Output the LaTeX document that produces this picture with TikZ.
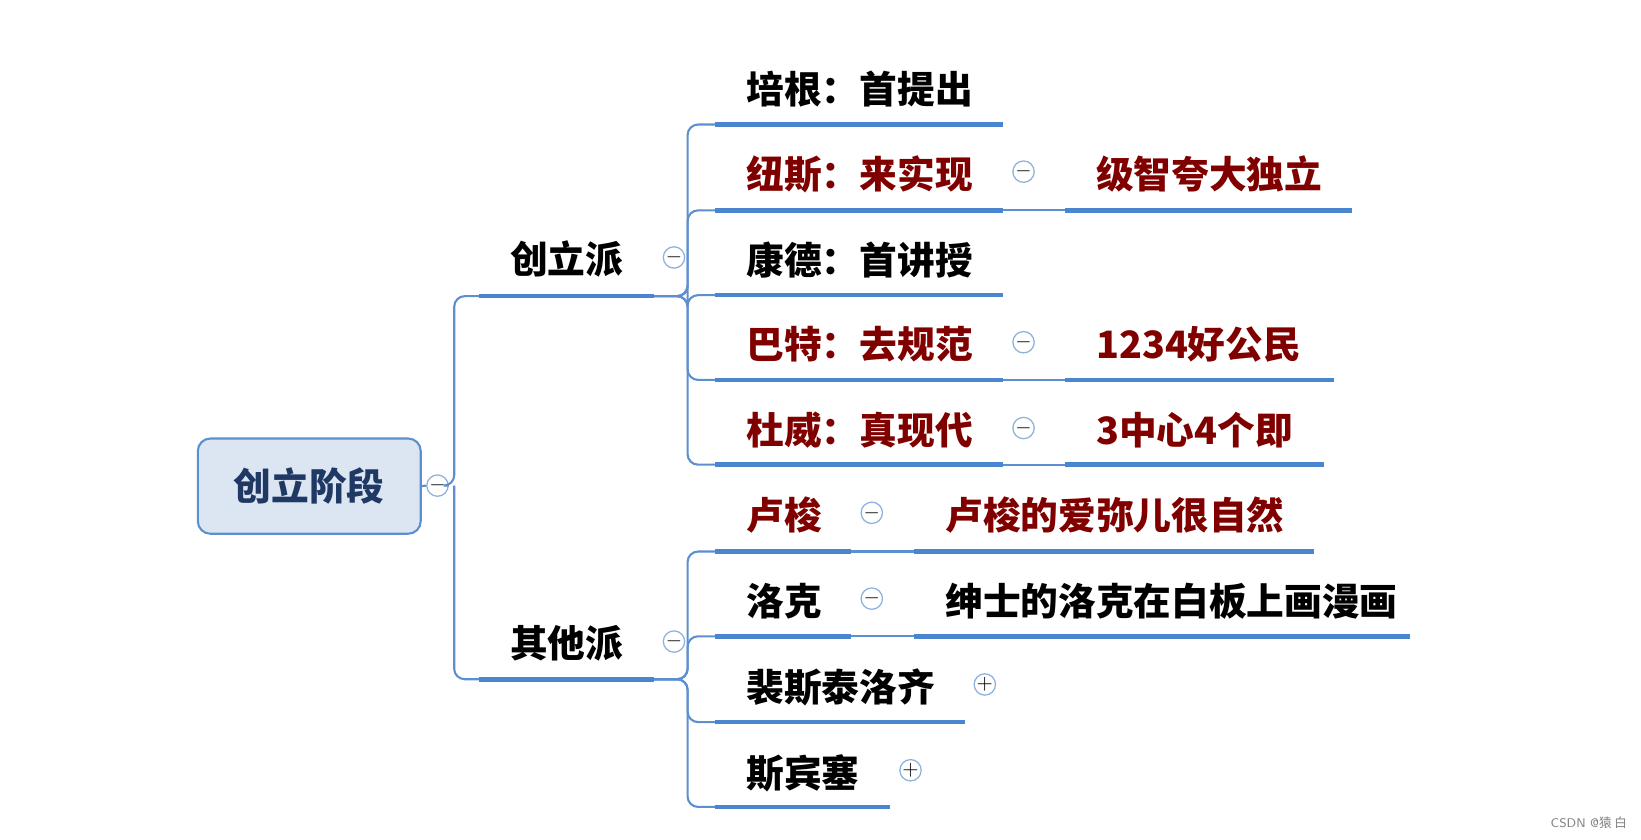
\documentclass[tikz,border=0pt]{standalone}
\usepackage{fontspec}
\newfontfamily\cjk{Noto Sans CJK SC}
\begin{document}
\begin{tikzpicture}[x=0.5pt,y=-0.5pt,
  ln/.style={draw=lnc,line width=1pt,rounded corners=5pt},
  ul/.style={draw=ulc,line width=2.2pt},
  tx/.style={anchor=base west,inner sep=0pt,font=\cjk\bfseries\fontsize{18pt}{20pt}\selectfont,text=black},
  rd/.style={text=red!50!black},
  tog/.style={circle,draw=lnc!70,fill=white,line width=0.6pt,minimum size=9pt,inner sep=0pt},
  wm/.style={anchor=base east,inner sep=0pt,font=\sffamily\fontsize{6pt}{7pt}\selectfont,text=gray}]
\definecolor{lnc}{HTML}{5B8FD0}
\definecolor{ulc}{HTML}{4A86D0}
\definecolor{rootfill}{HTML}{DCE6F2}
\definecolor{roottext}{HTML}{1F3864}
\useasboundingbox (0,0) rectangle (1568,802);
% root
\node[draw=lnc,fill=rootfill,line width=1pt,rounded corners=6pt,minimum width=106.5pt,minimum height=45.5pt,font=\cjk\bfseries\fontsize{18pt}{20pt}\selectfont,text=roottext] (root) at (295.5,464.5) {创立阶段};
\node[tog] (t0) at (418,464) {$-$};
% level 1
\coordinate (a0) at (458,283); \coordinate (a1) at (625,283);
\coordinate (b0) at (458,649); \coordinate (b1) at (625,649);
\draw[ln] (root.east) -- (t0.west);
\draw[ln] (t0.east) -- (434,464) |- (a0);
\draw[ln] (434,464) |- (b0);
\draw[ul] (a0) -- (a1); \draw[ul] (b0) -- (b1);
\node[tx] (na) at (487,261) {创立派};
\node[tx] (nb) at (487,628) {其他派};
\node[tog] (ta) at (644,246) {$-$};
\node[tog] (tb) at (644,613) {$-$};
% children of 创立派
\foreach \y/\nm in {119/c1,201/c2,282/c3,363/c4,444/c5}{
  \coordinate (\nm s) at (683,\y); \coordinate (\nm e) at (958,\y);
  \draw[ln] (a1) -- (657,283) |- (\nm s);
  \draw[ul] (\nm s) -- (\nm e);
}
\node[tx] (n1) at (713,99) {培根：首提出};
\node[tx,rd] (n2) at (713,180) {纽斯：来实现};
\node[tx] (n3) at (713,262) {康德：首讲授};
\node[tx,rd] (n4) at (713,343) {巴特：去规范};
\node[tx,rd] (n5) at (713,425) {杜威：真现代};
\node[tog] (t2) at (978,164) {$-$};
\node[tog] (t4) at (978,327) {$-$};
\node[tog] (t5) at (978,409) {$-$};
\coordinate (g2s) at (1018,201); \coordinate (g2e) at (1292,201);
\coordinate (g4s) at (1018,363); \coordinate (g4e) at (1275,363);
\coordinate (g5s) at (1018,444); \coordinate (g5e) at (1265,444);
\draw[ln] (c2e) -- (g2s); \draw[ln] (c4e) -- (g4s); \draw[ln] (c5e) -- (g5s);
\draw[ul] (g2s) -- (g2e); \draw[ul] (g4s) -- (g4e); \draw[ul] (g5s) -- (g5e);
\node[tx,rd] (m2) at (1047,180) {级智夸大独立};
\node[tx,rd] (m4) at (1047,343) {1234好公民};
\node[tx,rd] (m5) at (1047,425) {3中心4个即};
% children of 其他派
\foreach \y/\x/\nm in {527/813/d1,608/813/d2,690/922/d3,771/850/d4}{
  \coordinate (\nm s) at (683,\y); \coordinate (\nm e) at (\x,\y);
  \draw[ln] (b1) -- (657,649) |- (\nm s);
  \draw[ul] (\nm s) -- (\nm e);
}
\node[tx,rd] (p1) at (713,506) {卢梭};
\node[tx] (p2) at (713,588) {洛克};
\node[tx] (p3) at (713,670) {裴斯泰洛齐};
\node[tx] (p4) at (713,752) {斯宾塞};
\node[tog] (u1) at (833,490) {$-$};
\node[tog] (u2) at (833,572) {$-$};
\node[tog] (u3) at (941,654) {$+$};
\node[tog] (u4) at (870,736) {$+$};
\coordinate (h1s) at (873,527); \coordinate (h1e) at (1256,527);
\coordinate (h2s) at (873,608); \coordinate (h2e) at (1347,608);
\draw[ln] (d1e) -- (h1s); \draw[ln] (d2e) -- (h2s);
\draw[ul] (h1s) -- (h1e); \draw[ul] (h2s) -- (h2e);
\node[tx,rd] (q1) at (903,506) {卢梭的爱弥儿很自然};
\node[tx] (q2) at (903,588) {绅士的洛克在白板上画漫画};
\node[wm] (w) at (1555,791) {CSDN @\cjk 猿 白};
\end{tikzpicture}
\end{document}
